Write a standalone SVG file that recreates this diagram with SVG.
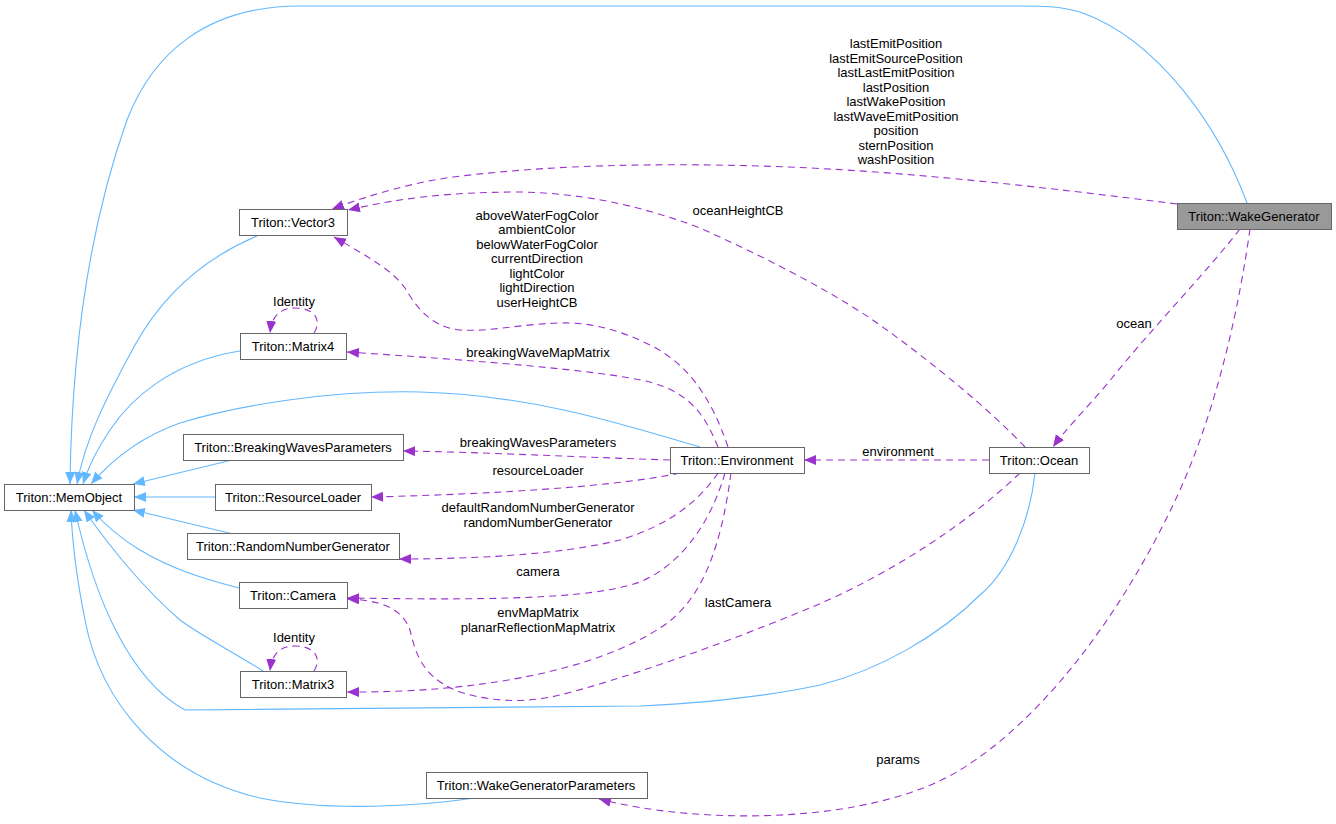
<svg xmlns="http://www.w3.org/2000/svg" width="1336" height="824" viewBox="0 0 1336 824">
<style>
text{font-family:"Liberation Sans",Arial,sans-serif;font-size:13px;fill:#000;text-anchor:middle}
.box{fill:#fff;stroke:#666;stroke-width:1}
.root{fill:#999;stroke:#666;stroke-width:1}
.inh{fill:none;stroke:#63b8ff;stroke-width:1.1;marker-end:url(#ab)}
.use{fill:none;stroke:#9a32cd;stroke-width:1.1;stroke-dasharray:7,5;marker-end:url(#ap)}
</style>
<defs>
<marker id="ab" markerUnits="userSpaceOnUse" markerWidth="14" markerHeight="12" refX="12" refY="5" orient="auto" viewBox="0 0 14 12"><path d="M0,0 L12,5 L0,10 z" fill="#63b8ff"/></marker>
<marker id="ap" markerUnits="userSpaceOnUse" markerWidth="14" markerHeight="12" refX="12" refY="5" orient="auto" viewBox="0 0 14 12"><path d="M0,0 L12,5 L0,10 z" fill="#9a32cd"/></marker>
</defs>
<rect width="1336" height="824" fill="#fff"/>
<g id="connectors">
<!-- inheritance -->
<path class="inh" d="M1247,203 C1220,130 1160,40 1080,12 C1060,6 1040,6 1020,6 L300,6 C205,6 152,55 127,120 C95,210 72,330 70,484"/>
<path class="inh" d="M257,236 C200,260 160,300 135,345 C105,400 85,440 77,484"/>
<path class="inh" d="M240,351 C170,362 130,400 110,430 C95,452 88,468 83,484"/>
<path class="inh" d="M700,447 C640,430 540,395 420,392 C330,390 240,405 180,423 C140,437 112,460 91,484"/>
<path class="inh" d="M232,460 L133,484"/>
<path class="inh" d="M215,497 L134,497"/>
<path class="inh" d="M233,534 L133,510"/>
<path class="inh" d="M239,588 C200,578 170,568 140,550 C120,538 105,525 92,510"/>
<path class="inh" d="M263,671 C230,650 200,635 180,620 C140,585 105,540 84,510"/>
<path class="inh" d="M1035,473 C1030,520 1010,570 980,595 C940,635 880,670 820,685 C760,698 700,703 640,706 L185,710 C130,680 95,600 75,510"/>
<path class="inh" d="M475,798 C420,806 330,812 260,798 C160,775 100,700 85,620 C75,570 72,540 71,510"/>
<!-- usage -->
<path class="use" d="M1177,204 C1050,188 900,170 760,166 C650,163 550,165 453,177 C410,183 370,195 332,209"/>
<path class="use" d="M1025,447 C990,410 930,360 870,318 C820,285 760,255 700,228 C640,205 580,193 520,192 C450,192 400,198 348,210"/>
<path class="use" d="M728,447 C712,400 690,365 650,345 C620,330 590,322 560,323 C520,324 490,332 460,330 C430,327 415,305 405,288 C392,270 370,258 334,237"/>
<path class="use" d="M718,447 C705,415 690,393 650,382 C600,370 470,360 347,352"/>
<path class="use" d="M670,460 C600,458 480,452 403,451"/>
<path class="use" d="M680,473 C620,486 500,494 371,497"/>
<path class="use" d="M718,473 C700,500 670,525 620,540 C560,555 470,559 399,559"/>
<path class="use" d="M725,473 C710,525 680,565 640,582 C590,600 480,600 347,598"/>
<path class="use" d="M731,473 C722,540 705,600 660,628 C595,670 480,693 347,692"/>
<path class="use" d="M1020,473 C960,530 880,580 800,612 C720,645 620,680 560,695 C520,705 480,700 455,690 C420,675 415,650 410,630 C402,608 380,600 347,599"/>
<path class="use" d="M989,460 L804,460"/>
<path class="use" d="M1240,229 C1200,280 1150,330 1108,383 C1085,410 1065,430 1053,447"/>
<path class="use" d="M1250,229 C1240,300 1220,400 1180,490 C1130,600 1050,715 960,770 C870,825 700,825 599,799"/>
<path class="use" d="M314,333 C322,320 315,308 295,308 C282,308 272,314 270,333"/>
<path class="use" d="M314,671 C322,658 315,646 295,646 C282,646 272,652 270,671"/>
</g>
<g id="edge-labels">
<text x="896" y="48">lastEmitPosition</text>
<text x="896" y="63">lastEmitSourcePosition</text>
<text x="896" y="77">lastLastEmitPosition</text>
<text x="896" y="92">lastPosition</text>
<text x="896" y="106">lastWakePosition</text>
<text x="896" y="121">lastWaveEmitPosition</text>
<text x="896" y="135">position</text>
<text x="896" y="150">sternPosition</text>
<text x="896" y="164">washPosition</text>
<text x="738" y="215">oceanHeightCB</text>
<text x="537" y="220">aboveWaterFogColor</text>
<text x="537" y="234">ambientColor</text>
<text x="537" y="249">belowWaterFogColor</text>
<text x="537" y="263">currentDirection</text>
<text x="537" y="278">lightColor</text>
<text x="537" y="292">lightDirection</text>
<text x="537" y="307">userHeightCB</text>
<text x="294" y="306">Identity</text>
<text x="538" y="357">breakingWaveMapMatrix</text>
<text x="538" y="447">breakingWavesParameters</text>
<text x="538" y="475">resourceLoader</text>
<text x="538" y="512">defaultRandomNumberGenerator</text>
<text x="538" y="527">randomNumberGenerator</text>
<text x="538" y="576">camera</text>
<text x="538" y="617">envMapMatrix</text>
<text x="538" y="632">planarReflectionMapMatrix</text>
<text x="738" y="607">lastCamera</text>
<text x="294" y="642">Identity</text>
<text x="898" y="456">environment</text>
<text x="1134" y="328">ocean</text>
<text x="898" y="764">params</text>
</g>
<g id="node-WakeGenerator"><rect class="root" x="1177.5" y="203.5" width="154" height="26"/><text x="1254" y="221">Triton::WakeGenerator</text></g>
<g id="node-Vector3"><rect class="box" x="239.5" y="209.5" width="108" height="26"/><text x="293" y="227">Triton::Vector3</text></g>
<g id="node-Matrix4"><rect class="box" x="240.5" y="333.5" width="106" height="26"/><text x="293" y="351">Triton::Matrix4</text></g>
<g id="node-BreakingWavesParameters"><rect class="box" x="183.5" y="434.5" width="220" height="26"/><text x="293" y="452">Triton::BreakingWavesParameters</text></g>
<g id="node-MemObject"><rect class="box" x="4.5" y="484.5" width="130" height="26"/><text x="69" y="502">Triton::MemObject</text></g>
<g id="node-ResourceLoader"><rect class="box" x="215.5" y="484.5" width="156" height="26"/><text x="293" y="502">Triton::ResourceLoader</text></g>
<g id="node-RandomNumberGenerator"><rect class="box" x="187.5" y="533.5" width="212" height="26"/><text x="293" y="551">Triton::RandomNumberGenerator</text></g>
<g id="node-Camera"><rect class="box" x="239.5" y="582.5" width="108" height="26"/><text x="293" y="600">Triton::Camera</text></g>
<g id="node-Matrix3"><rect class="box" x="240.5" y="671.5" width="106" height="26"/><text x="293" y="689">Triton::Matrix3</text></g>
<g id="node-Environment"><rect class="box" x="670.5" y="447.5" width="134" height="26"/><text x="737" y="465">Triton::Environment</text></g>
<g id="node-Ocean"><rect class="box" x="989.5" y="447.5" width="100" height="26"/><text x="1039" y="465">Triton::Ocean</text></g>
<g id="node-WakeGeneratorParameters"><rect class="box" x="426.5" y="772.5" width="221" height="26"/><text x="536" y="790">Triton::WakeGeneratorParameters</text></g>
</svg>
